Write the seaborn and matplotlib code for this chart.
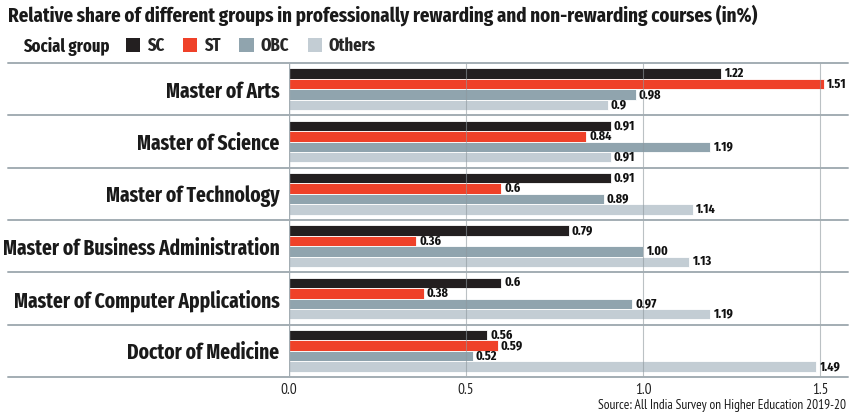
import matplotlib
matplotlib.use("Agg")
import matplotlib.pyplot as plt
import seaborn as sns
import pandas as pd
from matplotlib.patches import Patch

courses = ["Master of Arts", "Master of Science", "Master of Technology",
           "Master of Business Administration", "Master of Computer Applications",
           "Doctor of Medicine"]
groups = ["SC", "ST", "OBC", "Others"]
sc = [1.22, 0.91, 0.91, 0.79, 0.60, 0.56]
st = [1.51, 0.84, 0.60, 0.36, 0.38, 0.59]
obc = [0.98, 1.19, 0.89, 1.00, 0.97, 0.52]
others = [0.90, 0.91, 1.14, 1.13, 1.19, 1.49]
sc_labels = ["1.22", "0.91", "0.91", "0.79", "0.6", "0.56"]
st_labels = ["1.51", "0.84", "0.6", "0.36", "0.38", "0.59"]
obc_labels = ["0.98", "1.19", "0.89", "1.00", "0.97", "0.52"]
others_labels = ["0.9", "0.91", "1.14", "1.13", "1.19", "1.49"]
x_ticks = [0.0, 0.5, 1.0, 1.5]

colors = ["#231f20", "#ef4129", "#90a4ae", "#c3cdd4"]
line_col = "#a3adb3"

sns.set_theme(style="white")
plt.rcParams["font.family"] = ["Fira Sans Extra Condensed", "Fira Sans Condensed", "DejaVu Sans"]
narrow = ["PT Sans Narrow", "Fira Sans Extra Condensed", "DejaVu Sans"]

rows = []
for vals, g in zip([sc, st, obc, others], groups):
    for c, v in zip(courses, vals):
        rows.append({"course": c, "group": g, "value": v})
df = pd.DataFrame(rows)

fig = plt.figure(figsize=(8.55, 4.2), dpi=100)
ax = fig.add_axes([289 / 855, 43 / 420, (848 - 289) / 855, 314 / 420])

sns.barplot(data=df, y="course", x="value", hue="group", order=courses,
            hue_order=groups, palette=colors, saturation=1, orient="h", width=0.8,
            edgecolor="white", linewidth=0.6, legend=False, ax=ax)

ax.set_xlim(0, (848 - 289) / 354)
ax.set_ylim(len(courses) - 0.5, -0.5)

# value labels
for cont, labs in zip(ax.containers, [sc_labels, st_labels, obc_labels, others_labels]):
    ax.bar_label(cont, labels=labs, padding=2, fontsize=9.5, fontweight="bold",
                 color="#111111")

# separators across the whole width
for i in range(len(courses) + 1):
    ax.axhline(i - 0.5, xmin=-0.503, xmax=1, color=line_col, lw=1.4,
               clip_on=False, zorder=5)
for xv in x_ticks[1:]:
    ax.axvline(xv, color="#8e989e", lw=0.8, alpha=0.6, zorder=4)
ax.axvline(0, color=line_col, lw=1.0, zorder=4)

for s in ax.spines.values():
    s.set_visible(False)

ax.set_xticks(x_ticks)
ax.set_xticklabels([f"{t:.1f}" for t in x_ticks], fontsize=11, color="#222222",
                   family=narrow)
ax.tick_params(axis="x", length=0, pad=4)
ax.set_yticks(range(len(courses)))
ax.set_yticklabels(courses, fontsize=15.2, fontweight="bold", color="#1a1a1a")
ax.tick_params(axis="y", length=0, pad=7)
ax.set_xlabel("")
ax.set_ylabel("")

fig.text(8 / 855, 1 - 15 / 420,
         "Relative share of different groups in professionally rewarding and non-rewarding courses (in%)",
         fontsize=14.8, fontweight="bold", va="center", ha="left", color="#1a1a1a")
fig.text(23 / 855, 1 - 46 / 420, "Social group", fontsize=13, fontweight="bold",
         va="center", ha="left", color="#1a1a1a")

handles = [Patch(facecolor=c, edgecolor="none") for c in colors]
fig.legend(handles, groups, loc="center left", bbox_to_anchor=(126 / 855, 1 - 46 / 420),
           ncol=4, frameon=False, handlelength=0.8, handleheight=0.8,
           handletextpad=0.35, columnspacing=1.05, borderpad=0, borderaxespad=0,
           prop={"size": 13, "weight": "bold"})

fig.text(846 / 855, 1 - 406 / 420, "Source: All India Survey on Higher Education 2019-20",
         fontsize=9.6, ha="right", va="center", color="#1a1a1a", family=narrow)

fig.savefig("out.png", dpi=100)
